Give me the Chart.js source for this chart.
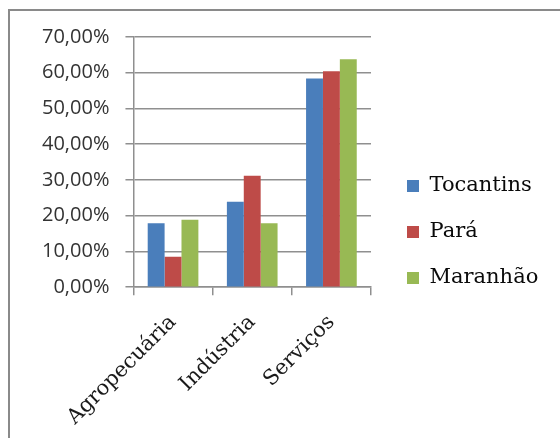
<!DOCTYPE html>
<html>
<head>
<meta charset="utf-8">
<script src="https://cdn.jsdelivr.net/npm/chart.js@4.4.1/dist/chart.umd.min.js"></script>
<style>
  html, body { margin: 0; padding: 0; background: #fff; }
  #wrap { width: 560px; height: 438px; position: relative; }
</style>
</head>
<body>
<div id="wrap"><canvas id="c" width="560" height="438"></canvas></div>
<script>
// Participação dos setores na economia, por estado
const categories = ['Agropecuária', 'Indústria', 'Serviços'];
const tocantins = [17.9, 23.9, 58.4];
const para = [8.5, 31.2, 60.4];
const maranhao = [18.9, 17.9, 63.8];
const yTicks = [0, 10, 20, 30, 40, 50, 60, 70];

const gridGray = '#8f8f8f';

// Moldura cinza em volta do gráfico
const framePlugin = {
  id: 'frame',
  beforeDraw(chart) {
    const ctx = chart.ctx;
    ctx.save();
    ctx.fillStyle = '#ffffff';
    ctx.fillRect(0, 0, chart.width, chart.height);
    ctx.strokeStyle = '#8a8a8a';
    ctx.lineWidth = 2;
    ctx.strokeRect(9, 10, 700, 600);
    ctx.restore();
  }
};

// Legenda mais larga, com os itens afastados do gráfico
const legendGapPlugin = {
  id: 'legendGap',
  beforeLayout(chart) {
    const lg = chart.legend;
    if (lg && !lg._gapPatched) {
      const fit = lg.fit.bind(lg);
      const draw = lg.draw.bind(lg);
      lg.fit = function () { fit(); this.width += 51; };
      lg.draw = function () {
        const ctx = this.ctx;
        ctx.save();
        ctx.translate(11, -2);
        draw();
        ctx.restore();
      };
      lg._gapPatched = true;
    }
  }
};

new Chart(document.getElementById('c'), {
  type: 'bar',
  data: {
    labels: categories,
    datasets: [
      { label: 'Tocantins', data: tocantins, backgroundColor: '#4a7ebb' },
      { label: 'Pará', data: para, backgroundColor: '#be4b48' },
      { label: 'Maranhão', data: maranhao, backgroundColor: '#98b954' }
    ]
  },
  options: {
    responsive: false,
    animation: false,
    devicePixelRatio: 1,
    datasets: { bar: { categoryPercentage: 0.64, barPercentage: 1.0 } },
    layout: { padding: { top: 37, left: 26, right: 6, bottom: 7 } },
    plugins: {
      tooltip: { enabled: false },
      legend: {
        position: 'right',
        align: 'center',
        labels: {
          boxWidth: 12,
          boxHeight: 12,
          padding: 25,
          color: '#0a0a0a',
          font: { family: 'DejaVu Serif', size: 21 }
        }
      }
    },
    scales: {
      x: {
        offset: true,
        afterFit(scale) { scale.height -= 14; },
        grid: {
          offset: true,
          drawOnChartArea: false,
          drawTicks: true,
          tickLength: 8,
          color: gridGray,
          lineWidth: 1.5
        },
        border: { display: true, color: gridGray, width: 1.5 },
        ticks: {
          minRotation: 45,
          maxRotation: 45,
          padding: 15,
          color: '#1a1a1a',
          font: { family: 'DejaVu Serif', size: 21 }
        }
      },
      y: {
        min: 0,
        max: 70,
        afterBuildTicks(scale) {
          scale.ticks = yTicks.map(v => ({ value: v }));
        },
        grid: {
          color: gridGray,
          lineWidth: 1.5,
          drawTicks: true,
          tickLength: 8
        },
        border: { display: true, color: gridGray, width: 1.5 },
        ticks: {
          padding: 16,
          color: '#333333',
          font: { family: 'Open Sans', size: 20 },
          callback: v => v.toFixed(2).replace('.', ',') + '%'
        }
      }
    }
  },
  plugins: [framePlugin, legendGapPlugin]
});
</script>
</body>
</html>
